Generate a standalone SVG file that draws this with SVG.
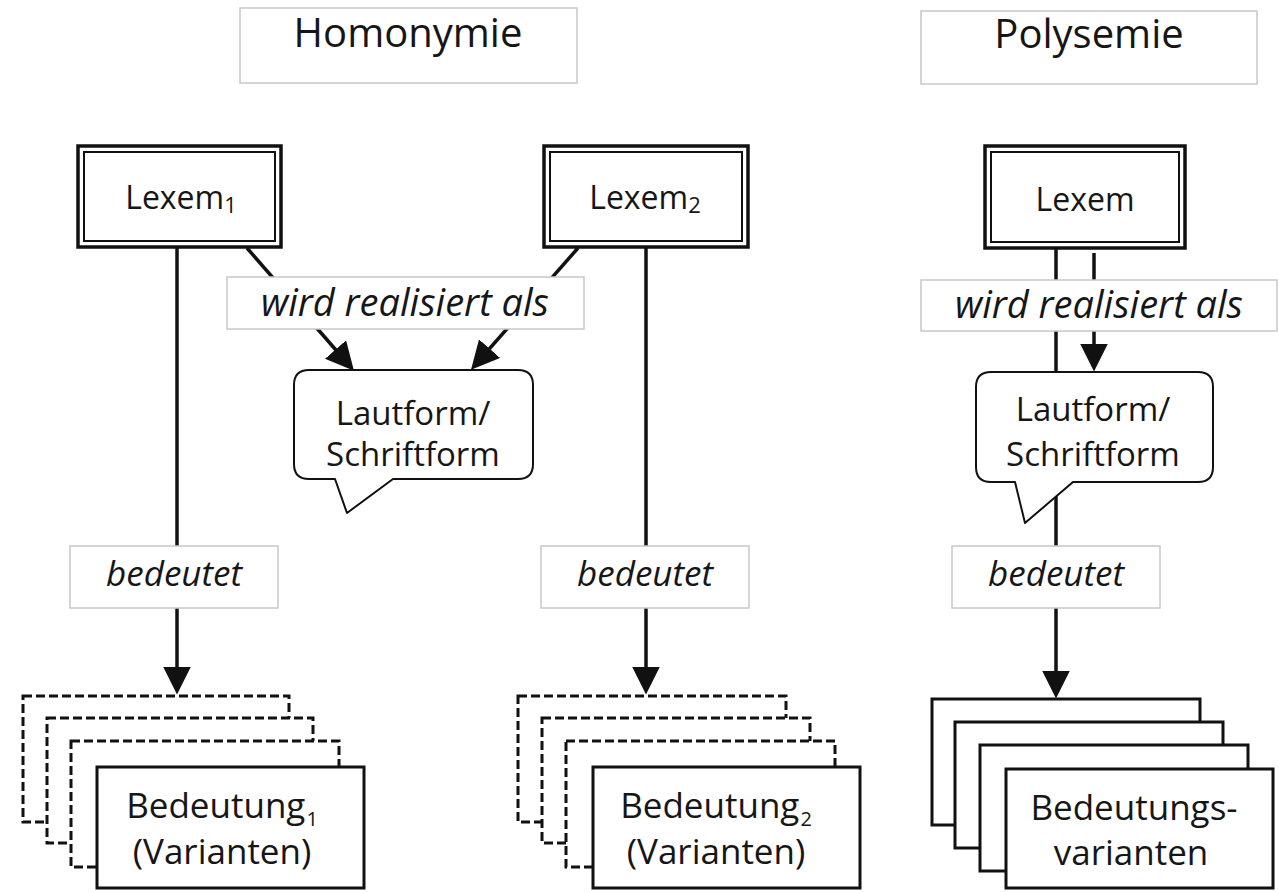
<svg xmlns="http://www.w3.org/2000/svg" width="1279" height="892" viewBox="0 0 1279 892">
  <defs>
    <style>
      text { font-family: "Open Sans", "Noto Sans", "DejaVu Sans", sans-serif; fill: #161616; }
      .title { font-size: 40px; text-anchor: middle; }
      .lex { font-size: 32px; text-anchor: middle; }
      .rel { font-size: 38px; font-style: italic; text-anchor: middle; }
      .means { font-size: 35px; font-style: italic; text-anchor: middle; }
      .body { font-size: 33px; text-anchor: middle; }
      .big { font-size: 35px; text-anchor: middle; }
      .label { fill: #ffffff; stroke: #c8c8c8; stroke-width: 1.5; }
      .outer { fill: #ffffff; stroke: #111; stroke-width: 3.5; }
      .inner { fill: none; stroke: #111; stroke-width: 2; }
      .bubble { fill: #ffffff; stroke: #111; stroke-width: 2; stroke-linejoin: round; }
      .dash { fill: #ffffff; stroke: #111; stroke-width: 3; stroke-dasharray: 9 4; }
      .solid { fill: #ffffff; stroke: #111; stroke-width: 3; }
      .edge { fill: none; stroke: #111; stroke-width: 3.5; }
    </style>
    <marker id="head" markerUnits="userSpaceOnUse" markerWidth="28" markerHeight="28" viewBox="0 0 26 26" refX="19" refY="13" orient="auto">
      <path d="M0,0 L26,13 L0,26 z" fill="#111"/>
    </marker>
  </defs>

  <rect width="1279" height="892" fill="#ffffff"/>

  <!-- connectors -->
  <g id="connectors">
    <line class="edge" x1="177" y1="248" x2="177" y2="687" marker-end="url(#head)"/>
    <line class="edge" x1="646" y1="248" x2="646" y2="687" marker-end="url(#head)"/>
    <line class="edge" x1="247" y1="248" x2="349" y2="365" marker-end="url(#head)"/>
    <line class="edge" x1="578" y1="248" x2="476" y2="364" marker-end="url(#head)"/>
    <line class="edge" x1="1056" y1="249" x2="1056" y2="691" marker-end="url(#head)"/>
    <line class="edge" x1="1094" y1="253" x2="1094" y2="364" marker-end="url(#head)"/>
  </g>

  <!-- headings -->
  <g id="title-homonymie">
    <rect class="label" x="240" y="8" width="337" height="75"/>
    <text class="title" x="408" y="47">Homonymie</text>
  </g>
  <g id="title-polysemie">
    <rect class="label" x="921" y="11" width="336" height="73"/>
    <text class="title" x="1089" y="48">Polysemie</text>
  </g>

  <!-- lexeme boxes (double border) -->
  <g id="lexem1">
    <rect class="outer" x="78" y="146" width="203" height="101"/>
    <rect class="inner" x="84" y="152" width="191" height="89"/>
    <text class="lex" x="181" y="209">Lexem<tspan font-size="22" dy="4">1</tspan></text>
  </g>
  <g id="lexem2">
    <rect class="outer" x="544" y="146" width="204" height="101"/>
    <rect class="inner" x="550" y="152" width="192" height="89"/>
    <text class="lex" x="645" y="209">Lexem<tspan font-size="22" dy="4">2</tspan></text>
  </g>
  <g id="lexem">
    <rect class="outer" x="985" y="146" width="200" height="102"/>
    <rect class="inner" x="991" y="152" width="188" height="90"/>
    <text class="lex" x="1085" y="211">Lexem</text>
  </g>

  <!-- relation labels -->
  <g id="rel-homonymie">
    <rect class="label" x="227" y="277" width="357" height="52"/>
    <text class="rel" x="405" y="316">wird realisiert als</text>
  </g>
  <g id="rel-polysemie">
    <rect class="label" x="921" y="280" width="356" height="51"/>
    <text class="rel" x="1099" y="318">wird realisiert als</text>
  </g>

  <!-- speech bubbles -->
  <g id="form-homonymie">
    <path class="bubble" d="M309,370 H518 Q533,370 533,385 V464 Q533,479 518,479 H393 L347,513 L335,479 H309 Q294,479 294,464 V385 Q294,370 309,370 Z"/>
    <text class="body" x="413" y="425">Lautform/</text>
    <text class="body" x="413" y="466">Schriftform</text>
  </g>
  <g id="form-polysemie">
    <path class="bubble" d="M991,372 H1198 Q1213,372 1213,387 V467 Q1213,482 1198,482 H1073 L1025,523 L1015,482 H991 Q976,482 976,467 V387 Q976,372 991,372 Z"/>
    <text class="body" x="1093" y="421">Lautform/</text>
    <text class="body" x="1093" y="466">Schriftform</text>
  </g>

  <!-- "bedeutet" labels -->
  <g id="means1">
    <rect class="label" x="70" y="546" width="208" height="62"/>
    <text class="means" x="174" y="586">bedeutet</text>
  </g>
  <g id="means2">
    <rect class="label" x="541" y="546" width="208" height="62"/>
    <text class="means" x="645" y="586">bedeutet</text>
  </g>
  <g id="means">
    <rect class="label" x="952" y="546" width="208" height="62"/>
    <text class="means" x="1056" y="586">bedeutet</text>
  </g>

  <!-- meaning stacks -->
  <g id="meaning1">
    <rect class="dash" x="23" y="696" width="266" height="126"/>
    <rect class="dash" x="47" y="718" width="266" height="125"/>
    <rect class="dash" x="71" y="741" width="268" height="126"/>
    <rect class="solid" x="97" y="767" width="267" height="121"/>
    <text class="big" x="222" y="818">Bedeutung<tspan font-size="20" dx="1" dy="8">1</tspan></text>
    <text class="big" x="222" y="864">(Varianten)</text>
  </g>
  <g id="meaning2">
    <rect class="dash" x="518" y="696" width="268" height="126"/>
    <rect class="dash" x="542" y="718" width="268" height="125"/>
    <rect class="dash" x="566" y="741" width="269" height="126"/>
    <rect class="solid" x="593" y="767" width="267" height="121"/>
    <text class="big" x="716" y="818">Bedeutung<tspan font-size="20" dx="1" dy="8">2</tspan></text>
    <text class="big" x="716" y="864">(Varianten)</text>
  </g>
  <g id="meaning">
    <rect class="solid" x="932" y="699" width="268" height="126"/>
    <rect class="solid" x="955" y="722" width="268" height="126"/>
    <rect class="solid" x="980" y="745" width="268" height="126"/>
    <rect class="solid" x="1006" y="769" width="267" height="119"/>
    <text class="big" x="1134" y="820">Bedeutungs-</text>
    <text class="big" x="1131" y="865">varianten</text>
  </g>
</svg>
